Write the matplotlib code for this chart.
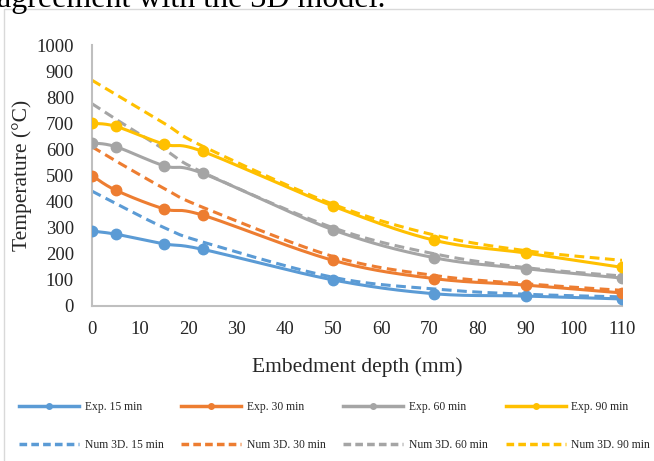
"""
Embedment depth vs temperature: experiment against 3D numerical model.
"""

import numpy as np
import matplotlib
matplotlib.use('Agg')
import matplotlib.pyplot as plt
from matplotlib.patches import Rectangle

plt.rcParams['font.family'] = ['Liberation Serif', 'DejaVu Serif']

# data
depth = [0, 5, 15, 23, 50, 71, 90, 110]
times = ['15', '30', '60', '90']

exp_15 = [287, 275, 238, 217, 100, 47, 38, 27]
exp_30 = [500, 443, 372, 348, 175, 105, 80, 50]
exp_60 = [625, 610, 537, 508, 292, 185, 143, 107]
exp_90 = [700, 688, 620, 592, 383, 252, 203, 148]

num_15 = [440, 392, 300, 245, 110, 65, 45, 35]
num_30 = [610, 555, 450, 378, 190, 117, 85, 60]
num_60 = [775, 715, 600, 512, 300, 200, 147, 115]
num_90 = [865, 810, 700, 612, 390, 272, 212, 175]

colors = ['#5B9BD5', '#ED7D31', '#A5A5A5', '#FFC000']


def smooth(x, y, n=30):
    """Excel-like smoothed line (Catmull-Rom style Bezier segments)."""
    p = np.column_stack([x, y]).astype(float)
    out = []
    for i in range(len(p) - 1):
        p0 = p[i - 1] if i > 0 else p[i]
        p3 = p[i + 2] if i + 2 < len(p) else p[i + 1]
        c1 = p[i] + (p[i + 1] - p0) / 6.0
        c2 = p[i + 1] - (p3 - p[i]) / 6.0
        t = np.linspace(0, 1, n)[:, None]
        seg = ((1 - t)**3 * p[i] + 3 * (1 - t)**2 * t * c1
               + 3 * (1 - t) * t**2 * c2 + t**3 * p[i + 1])
        out.append(seg if i == 0 else seg[1:])
    out = np.vstack(out)
    return out[:, 0], out[:, 1]


fig = plt.figure(figsize=(6.54, 4.61), dpi=100)

# chart frame and the clipped caption line above it
fig.patches.append(Rectangle((4 / 654, -0.05), 1.0, 1 - 9 / 461 + 0.05,
                             transform=fig.transFigure, fill=False,
                             edgecolor='#D9D9D9', linewidth=1.0))
fig.text(-0.004, 1 - 7 / 461, 'agreement with the 3D model.', fontsize=23,
         ha='left', va='baseline')

ax = fig.add_axes([92 / 654, 1 - 306 / 461, 530 / 654, 261 / 461])

handles = []
for exp, num, c, t in zip([exp_15, exp_30, exp_60, exp_90],
                          [num_15, num_30, num_60, num_90], colors, times):
    xs, ys = smooth(depth, exp)
    ax.plot(xs, ys, color=c, linewidth=2.2, solid_capstyle='round', zorder=3)
    ax.plot(depth, exp, 'o', color=c, markersize=7.5, zorder=4)
    xn, yn = smooth(depth, num)
    ax.plot(xn, yn, color=c, linewidth=2.2, dashes=(3.2, 1.8), zorder=2)
    h1, = ax.plot([], [], color=c, linewidth=2.5, marker='o', markersize=4,
                  label=f'Exp. {t} min')
    h2, = ax.plot([], [], color=c, linewidth=2.5, dashes=(2.2, 1.2),
                  label=f'Num 3D. {t} min')
    handles += [h1, h2]

ax.set_xlim(0, 110)
ax.set_ylim(0, 1000)
ax.set_xticks(np.arange(0, 111, 10))
ax.set_yticks(np.arange(0, 1001, 100))
ax.tick_params(length=0, labelsize=13.5, colors='#262626')
ax.tick_params(axis='y', pad=13)
ax.tick_params(axis='x', pad=11)
for s in ['top', 'right']:
    ax.spines[s].set_visible(False)
for s in ['left', 'bottom']:
    ax.spines[s].set_color('#BFBFBF')
    ax.spines[s].set_linewidth(1.5)

ax.set_xlabel('Embedment depth (mm)', fontsize=15.5, color='#262626', labelpad=14)
ax.set_ylabel('Temperature (°C)', fontsize=15.5, color='#262626', labelpad=3)

fig.legend(handles=handles, ncol=4, loc='center',
           bbox_to_anchor=(334.5 / 654, 1 - 426 / 461), frameon=False,
           fontsize=8.4, handlelength=5.15, handletextpad=0.5,
           columnspacing=1.5, labelspacing=2.25, labelcolor='#262626',
           borderpad=0.0, borderaxespad=0.0)

plt.savefig('out.png', dpi=100)
